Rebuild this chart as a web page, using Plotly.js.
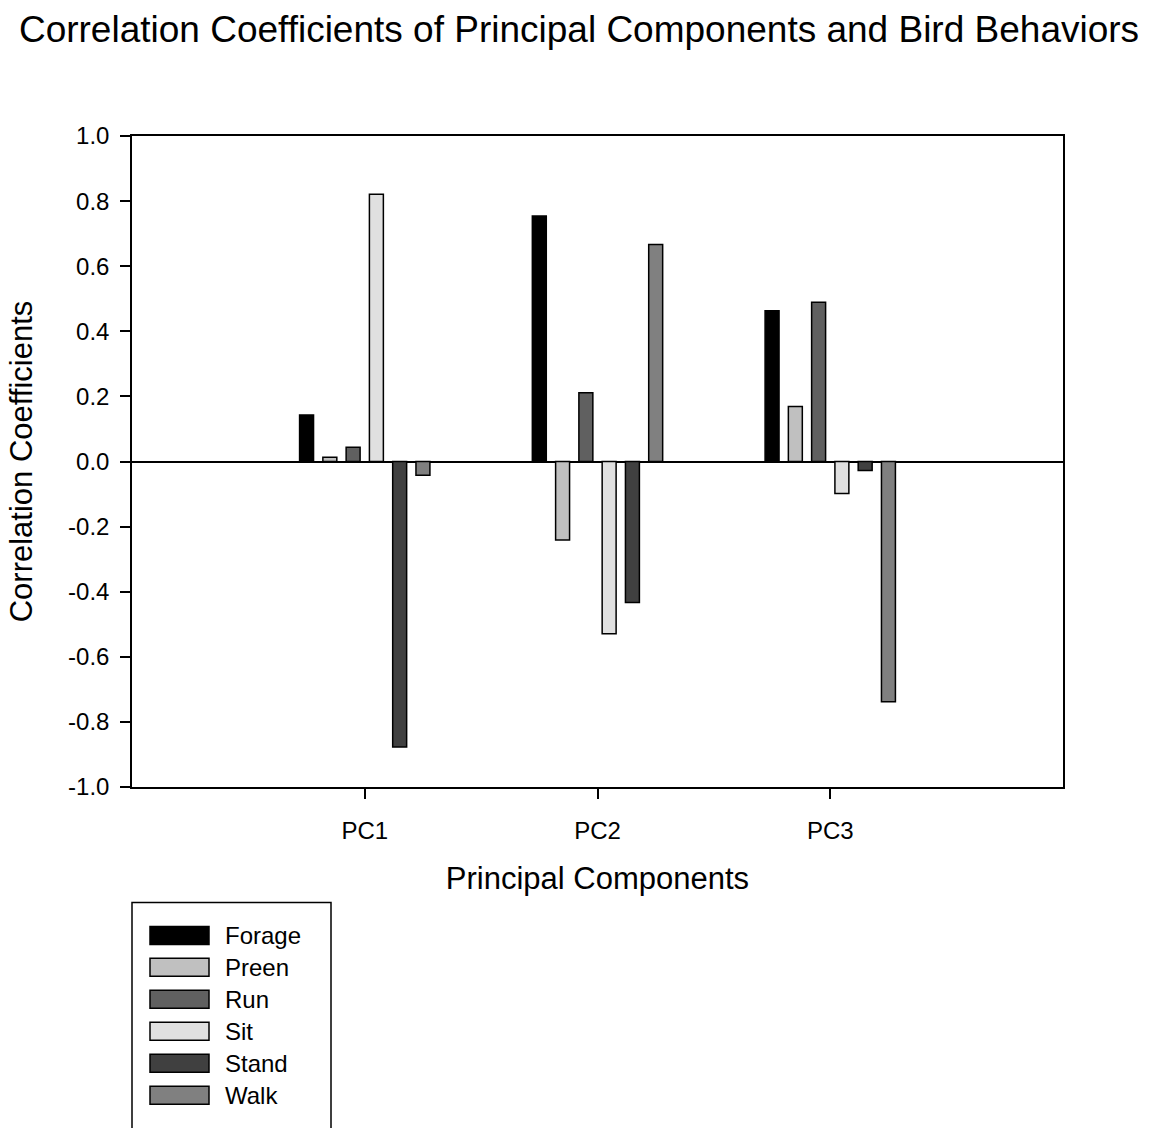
<!DOCTYPE html>
<html>
<head>
<meta charset="utf-8">
<script src="https://cdn.plot.ly/plotly-3.0.1.min.js"></script>
<style>
  html, body { margin: 0; padding: 0; background: #ffffff; }
  #chart { width: 1158px; height: 1128px; }
</style>
</head>
<body>
<div id="chart"></div>
<script>
// ---- Data ----
const components = ["PC1", "PC2", "PC3"];
const behaviors = ["Forage", "Preen", "Run", "Sit", "Stand", "Walk"];
const forage = [0.143, 0.754, 0.463];
const preen  = [0.013, -0.241, 0.169];
const run    = [0.044, 0.211, 0.489];
const sit    = [0.821, -0.529, -0.098];
const stand  = [-0.877, -0.433, -0.028];
const walk   = [-0.042, 0.667, -0.738];
const yTickVals = [-1.0, -0.8, -0.6, -0.4, -0.2, 0.0, 0.2, 0.4, 0.6, 0.8, 1.0];
const yTickText = ["-1.0", "-0.8", "-0.6", "-0.4", "-0.2", "0.0", "0.2", "0.4", "0.6", "0.8", "1.0"];

// ---- Styles ----
const seriesValues = [forage, preen, run, sit, stand, walk];
const fills = ["#000000", "#c0c0c0", "#606060", "#e0e0e0", "#404040", "#808080"];
const FONT = "Liberation Sans, Arial, Helvetica, sans-serif";

const W = 1158, H = 1128;
const plotL = 132, plotR = 1063, plotT = 136, plotB = 787.5;
const pw = plotR - plotL, ph = plotB - plotT;

const traces = behaviors.map((name, i) => ({
  type: "bar",
  name: name,
  x: components,
  y: seriesValues[i],
  marker: { color: fills[i], line: { color: "#000000", width: 1.5 } },
  showlegend: false,
  hoverinfo: "x+y+name"
}));

// Custom legend (wide swatches like the original), positioned in paper coordinates
function px2x(px) { return (px - plotL) / pw; }
function px2y(py) { return (plotB - py) / ph; }

const shapes = [];
const annotations = [];
// legend frame
shapes.push({
  type: "rect", xref: "paper", yref: "paper",
  x0: px2x(132), x1: px2x(331), y0: px2y(1160), y1: px2y(903),
  line: { color: "#000000", width: 1.5 }, fillcolor: "rgba(0,0,0,0)", layer: "above"
});
behaviors.forEach((name, i) => {
  const top = 927 + i * 32;
  shapes.push({
    type: "rect", xref: "paper", yref: "paper",
    x0: px2x(150), x1: px2x(209), y0: px2y(top + 18), y1: px2y(top),
    line: { color: "#000000", width: 1.5 }, fillcolor: fills[i], layer: "above"
  });
  annotations.push({
    xref: "paper", yref: "paper", x: px2x(223), y: px2y(top + 9),
    xanchor: "left", yanchor: "middle", showarrow: false,
    text: name, font: { family: FONT, size: 24, color: "#000000" }
  });
});

const layout = {
  width: W, height: H,
  margin: { l: plotL, r: W - plotR, t: plotT, b: H - plotB, pad: 0 },
  paper_bgcolor: "#ffffff", plot_bgcolor: "#ffffff",
  font: { family: FONT, color: "#000000" },
  title: {
    text: "Correlation Coefficients of Principal Components and Bird Behaviors",
    font: { family: FONT, size: 37, color: "#000000" },
    x: 0.5, xanchor: "center", xref: "container",
    y: 1 - 29 / H, yanchor: "middle", yref: "container"
  },
  barmode: "group",
  bargap: 0.4,
  bargroupgap: 0.4,
  showlegend: false,
  xaxis: {
    type: "category",
    range: [-1, 3],
    showgrid: false, zeroline: false,
    showline: true, linecolor: "#000000", linewidth: 1.5, mirror: true,
    ticks: "outside", ticklen: 10, tickwidth: 1.5, tickcolor: "#000000",
    ticklabelstandoff: 11,
    tickfont: { family: FONT, size: 24, color: "#000000" },
    title: { text: "Principal Components", font: { family: FONT, size: 31, color: "#000000" }, standoff: 25 }
  },
  yaxis: {
    range: [-1, 1],
    tickvals: yTickVals, ticktext: yTickText,
    showgrid: false,
    zeroline: true, zerolinecolor: "#000000", zerolinewidth: 1.5,
    showline: true, linecolor: "#000000", linewidth: 1.5, mirror: true,
    ticks: "outside", ticklen: 10, tickwidth: 1.5, tickcolor: "#000000",
    ticklabelstandoff: 6,
    tickfont: { family: FONT, size: 24, color: "#000000" },
    title: { text: "Correlation Coefficients", font: { family: FONT, size: 31, color: "#000000" }, standoff: 26 }
  },
  shapes: shapes,
  annotations: annotations
};

Plotly.newPlot("chart", traces, layout, { displayModeBar: false, responsive: false });
</script>
</body>
</html>
